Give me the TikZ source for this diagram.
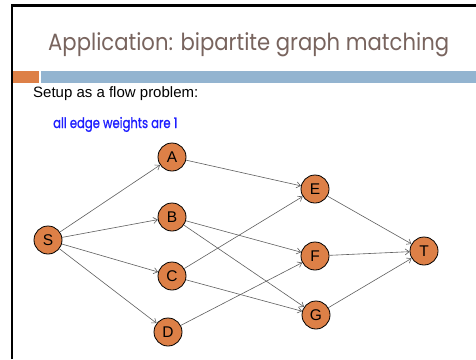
\documentclass[tikz,border=0pt]{standalone}
\usepackage{fontspec}
\setmainfont{Liberation Sans}
\newfontfamily\geofont{Poppins}
\newfontfamily\geoboldfont[FakeBold=1.2]{Poppins}
\usetikzlibrary{arrows.meta}
\definecolor{nodeorange}{RGB}{221,128,71}
\definecolor{barblue}{RGB}{147,180,208}
\definecolor{titlegray}{RGB}{120,100,94}
\definecolor{edgegray}{RGB}{95,95,95}
\definecolor{textblue}{RGB}{30,30,255}
\tikzset{
  vert/.style={circle, draw=black, line width=0.8pt, fill=nodeorange, minimum size=28pt, inner sep=0pt, font=\fontsize{15.5}{15.5}\selectfont},
  edge/.style={draw=edgegray, line width=0.6pt, -{Straight Barb[length=4pt,width=6pt]}}
}
\begin{document}
\begin{tikzpicture}[x=1pt,y=-1pt]
\useasboundingbox (0,0) rectangle (476,359);
\fill[white] (0,0) rectangle (476,359);
% slide frame
\draw[line width=2.5pt, line join=miter] (12,359) -- (12,5.5) -- (476,5.5);
% bars
\fill[nodeorange] (13,71) rectangle (39,82.7);
\fill[barblue] (40.7,71) rectangle (476,82.7);
% texts
\node[anchor=base west, inner sep=0pt, text=titlegray, font=\geofont\fontsize{23.5}{23.5}\selectfont] (title) at (48,50.5) {\scalebox{0.9}[1]{Application: bipartite graph matching}};
\node[anchor=base west, inner sep=0pt, font=\fontsize{15}{15}\selectfont] (setup) at (33,97) {Setup as a flow problem:};
\node[anchor=base west, inner sep=0pt, text=textblue, font=\geoboldfont\fontsize{14.5}{14.5}\selectfont] (weights) at (53,128) {\scalebox{0.8}[1]{all edge weights are 1}};
% nodes
\node[vert] (S) at (48,240) {S};
\node[vert] (A) at (172,157) {A};
\node[vert] (B) at (172,217) {B};
\node[vert] (C) at (172,276) {C};
\node[vert] (D) at (168,332) {D};
\node[vert] (E) at (315,189) {E};
\node[vert] (F) at (315,256) {F};
\node[vert] (G) at (316,315) {G};
\node[vert] (T) at (424,251) {T};
% edges
\draw[edge] (S) -- (A);
\draw[edge] (S) -- (B);
\draw[edge] (S) -- (C);
\draw[edge] (S) -- (D);
\draw[edge] (A) -- (E);
\draw[edge] (B) -- (F);
\draw[edge] (B) -- (G);
\draw[edge] (C) -- (E);
\draw[edge] (C) -- (G);
\draw[edge] (D) -- (F);
\draw[edge] (E) -- (T);
\draw[edge] (F) -- (T);
\draw[edge] (G) -- (T);
\end{tikzpicture}
\end{document}
